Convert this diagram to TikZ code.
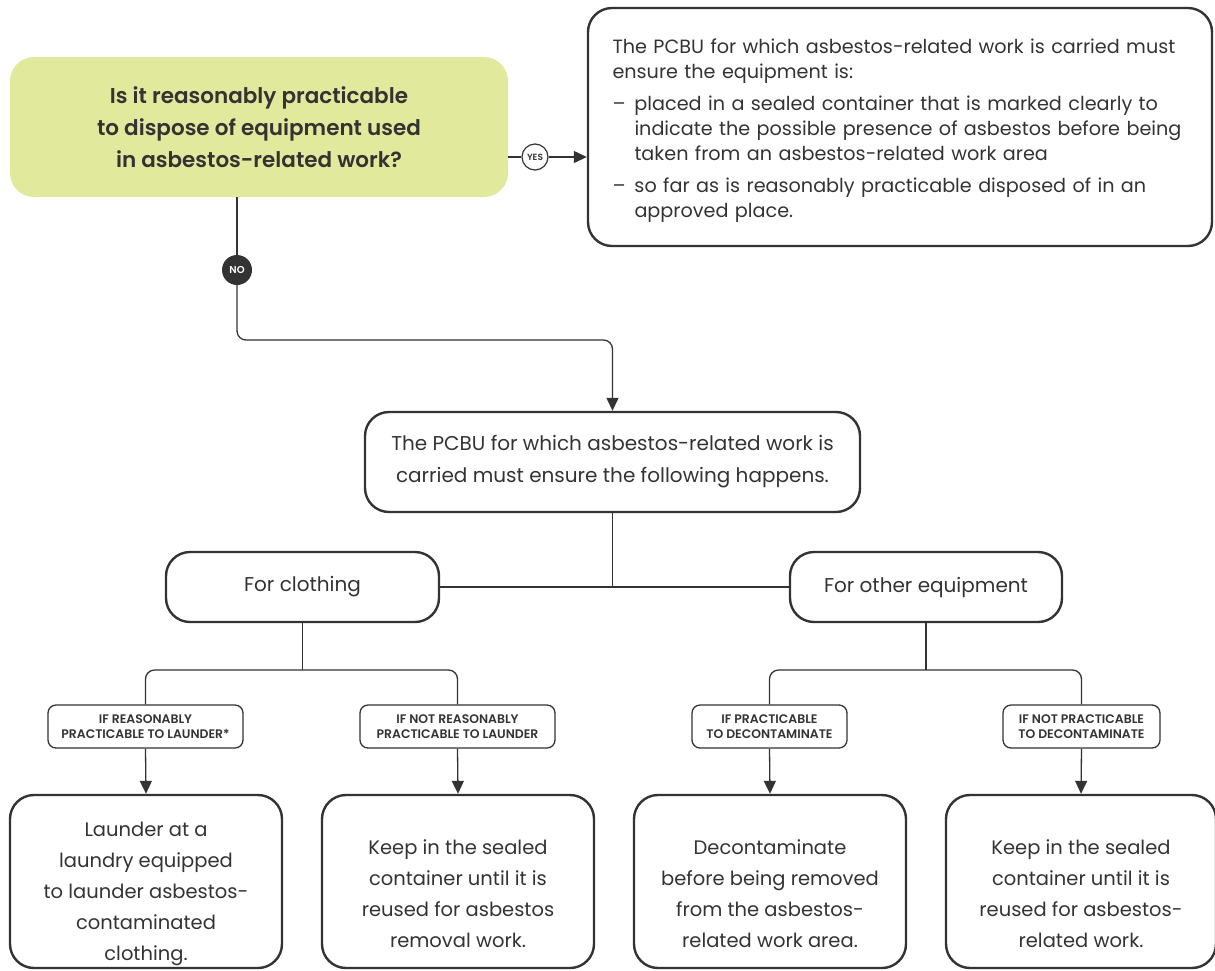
\documentclass[tikz,border=0pt]{standalone}
\usepackage{fontspec}
\setmainfont{Poppins}
\newfontfamily\semifont{Poppins SemiBold}
\usetikzlibrary{arrows.meta}
\definecolor{ink}{HTML}{333333}
\definecolor{qgreen}{HTML}{E1EA9C}

\begin{document}
\begin{tikzpicture}[x=1pt,y=-1pt,
  box/.style={draw=ink, line width=2.4pt, rounded corners=24pt, text=ink,
    align=center, inner sep=0pt},
  question/.style={fill=qgreen, rounded corners=24pt, text=ink, align=center,
    inner sep=0pt, minimum width=498pt, minimum height=140pt,
    font=\fontsize{21.5}{32}\semifont},
  caption/.style={draw=ink, line width=1.3pt, rounded corners=8pt, text=ink,
    align=center, inner sep=0pt, minimum height=43pt,
    font=\fontsize{12.4}{15}\semifont},
  bodytext/.style={text=ink, align=center, font=\fontsize{19.5}{31}\selectfont},
  conn/.style={draw=ink, line width=1.3pt},
  arr/.style={conn, -{Triangle[length=13pt,width=12pt]}},
]
\useasboundingbox (0,0) rectangle (1215,970);

% decision
\node[question] (q) at (259,127)
  {Is it reasonably practicable\\to dispose of equipment used\\in asbestos-related work?};

% yes branch
\node[circle, draw=ink, line width=1.2pt, fill=white, minimum size=26pt,
  inner sep=0pt, text=ink, font=\fontsize{9}{9}\semifont] (yes) at (535,157) {YES};
\node[box, minimum width=624pt, minimum height=238pt] (info) at (900,127) {};
\node[text=ink, align=left, text width=575pt, inner sep=0pt,
  font=\fontsize{19.2}{25}\selectfont] (infotext) at ([yshift=-4pt]info.center)
  {The PCBU for which asbestos-related work is carried must\\
   ensure the equipment is:\\[7pt]
   \makebox[22pt][l]{--}placed in a sealed container that is marked clearly to\\
   \hspace*{22pt}indicate the possible presence of asbestos before being\\
   \hspace*{22pt}taken from an asbestos-related work area\\[7pt]
   \makebox[22pt][l]{--}so far as is reasonably practicable disposed of in an\\
   \hspace*{22pt}approved place.};
\draw[conn] (q.east |- yes) -- (yes.west);
\draw[arr] (yes.east) -- (info.west |- yes.east);

% no branch
\node[circle, fill=ink, minimum size=30pt, inner sep=0pt, text=white,
  font=\fontsize{10}{10}\semifont] (no) at (237,270) {NO};
\node[box, minimum width=495pt, minimum height=100pt,
  font=\fontsize{20}{32}\selectfont] (mid) at (612.5,462)
  {The PCBU for which asbestos-related work is\\carried must ensure the following happens.};
\coordinate (nobend) at (612.5,340);
\draw[conn] (no |- q.south) -- (no.north);
\draw[arr, rounded corners=9pt] (no.south) |- (nobend) -- (mid.north);

% clothing / other equipment
\node[box, minimum width=273pt, minimum height=70pt,
  font=\fontsize{20}{22}\selectfont] (cloth) at (302.5,587) {For clothing};
\node[box, minimum width=272pt, minimum height=70pt,
  font=\fontsize{20}{22}\selectfont] (other) at (926,587) {For other equipment};
\draw[conn] (cloth.east) -- (other.west);
\draw[conn] (mid.south) -- (mid.south |- cloth.east);

% conditions
\node[caption, minimum width=195pt] (c1) at (145.5,726.5)
  {IF REASONABLY\\PRACTICABLE TO LAUNDER*};
\node[caption, minimum width=195pt] (c2) at (457.5,726.5)
  {IF NOT REASONABLY\\PRACTICABLE TO LAUNDER};
\node[caption, minimum width=155pt] (o1) at (769.5,726.5)
  {IF PRACTICABLE\\TO DECONTAMINATE};
\node[caption, minimum width=157pt] (o2) at (1081.5,726.5)
  {IF NOT PRACTICABLE\\TO DECONTAMINATE};

\coordinate (csplit) at (302.5,670);
\coordinate (osplit) at (926,670);
\draw[conn] (cloth.south) -- (csplit);
\draw[conn] (other.south) -- (osplit);
\draw[conn, rounded corners=9pt] (c1.north) |- (csplit) -| (c2.north);
\draw[conn, rounded corners=9pt] (o1.north) |- (osplit) -| (o2.north);

% outcomes
\node[box, minimum width=272pt, minimum height=173pt] (b1) at (146,881.5) {};
\node[box, minimum width=272pt, minimum height=173pt] (b2) at (458,881.5) {};
\node[box, minimum width=272pt, minimum height=173pt] (b3) at (770,881.5) {};
\node[box, minimum width=270pt, minimum height=173pt] (b4) at (1081,881.5) {};

\node[bodytext] (t1) at ([yshift=-12pt]b1.center)
  {Launder at a\\laundry equipped\\to launder asbestos-\\contaminated\\clothing.};
\node[bodytext] (t2) at ([yshift=-12pt]b2.center)
  {Keep in the sealed\\container until it is\\reused for asbestos\\removal work.};
\node[bodytext] (t3) at ([yshift=-12pt]b3.center)
  {Decontaminate\\before being removed\\from the asbestos-\\related work area.};
\node[bodytext] (t4) at ([yshift=-12pt]b4.center)
  {Keep in the sealed\\container until it is\\reused for asbestos-\\related work.};

\draw[arr] (c1.south) -- (b1.north);
\draw[arr] (c2.south) -- (b2.north);
\draw[arr] (o1.south) -- (b3.north);
\draw[arr] (o2.south) -- (b4.north);
\end{tikzpicture}
\end{document}
